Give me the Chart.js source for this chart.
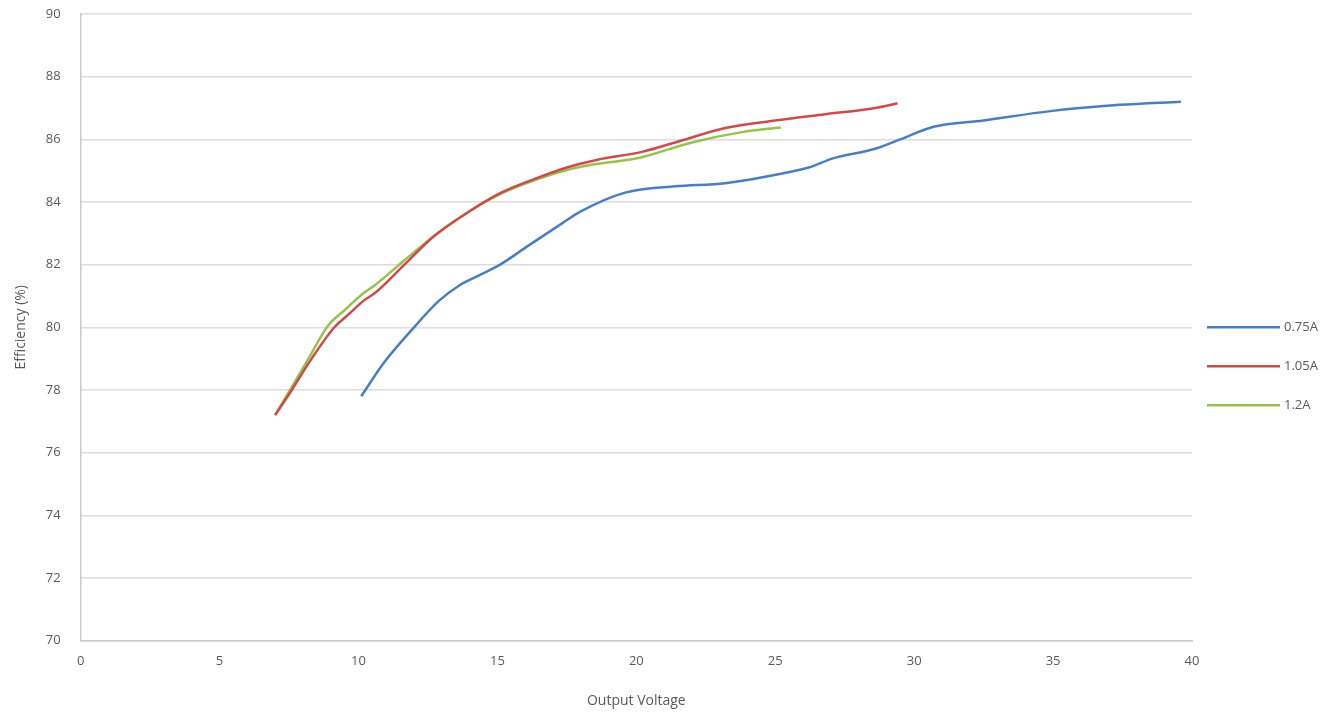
<!DOCTYPE html>
<html>
<head>
<meta charset="utf-8">
<script src="https://cdn.jsdelivr.net/npm/chart.js@4"></script>
<style>
  html, body { margin: 0; padding: 0; background: #fff; }
  #wrap { width: 1344px; height: 715px; }
</style>
</head>
<body>
<div id="wrap"><canvas id="myChart" width="1344" height="715"></canvas></div>
<script>
// valores
const seriesLabels = ['0.75A', '1.05A', '1.2A'];
const seriesColors = ['#4a7ebf', '#cc4b4b', '#98c150'];

const voltage075 = [10.1, 10.9, 11.9, 12.9, 13.6, 14.3, 15.1, 16.1, 17.3, 18.0, 19.6, 21.4, 23.2, 25.2, 26.2, 27.1, 28.6, 29.5, 30.7, 32.5, 34.9, 37.4, 39.6];
const eff075     = [77.8, 78.85, 79.9, 80.85, 81.32, 81.64, 82.0, 82.6, 83.3, 83.7, 84.3, 84.5, 84.6, 84.9, 85.1, 85.4, 85.7, 86.0, 86.4, 86.6, 86.9, 87.1, 87.2];

const voltage105 = [7.0, 7.6, 8.2, 9.1, 9.6, 10.2, 10.6, 11.6, 12.7, 13.9, 15.1, 16.3, 17.5, 18.6, 20.2, 21.4, 23.2, 25.0, 26.8, 28.6, 29.4];
const eff105     = [77.2, 78.0, 78.85, 79.97, 80.38, 80.86, 81.1, 81.95, 82.9, 83.65, 84.28, 84.72, 85.1, 85.35, 85.6, 85.9, 86.36, 86.6, 86.8, 87.0, 87.15];

const voltage12  = [7.0, 8.2, 8.9, 9.5, 10.2, 10.6, 11.6, 12.7, 13.9, 15.1, 16.3, 17.5, 18.6, 19.6, 20.2, 22.0, 23.8, 25.2];
const eff12      = [77.2, 79.0, 80.05, 80.55, 81.1, 81.35, 82.1, 82.9, 83.65, 84.25, 84.68, 85.02, 85.22, 85.33, 85.43, 85.9, 86.23, 86.38];

const xTicks = [0, 5, 10, 15, 20, 25, 30, 35, 40];
const yTicks = [70, 72, 74, 76, 78, 80, 82, 84, 86, 88, 90];

function puntos(xs, ys) {
    return xs.map((x, i) => ({ x: x, y: ys[i] }));
}

const textColor = '#595959';
const fontFam = '"Open Sans", "Liberation Sans", sans-serif';

// leyenda a la derecha, dibujada a mano para controlar el largo de las lineas
const leyenda = {
    id: 'leyenda',
    afterDraw(chart) {
        const c = chart.ctx;
        const area = chart.chartArea;
        const x0 = area.right + 15;
        const yMid = (area.top + area.bottom) / 2 + 39;
        c.save();
        c.font = '13px ' + fontFam;
        c.textBaseline = 'middle';
        chart.data.datasets.forEach((ds, i) => {
            const y = yMid + (i - 1) * 39;
            c.strokeStyle = ds.borderColor;
            c.lineWidth = 2.5;
            c.beginPath();
            c.moveTo(x0, y);
            c.lineTo(x0 + 73, y);
            c.stroke();
            c.fillStyle = textColor;
            c.fillText(ds.label, x0 + 77, y);
        });
        c.restore();
    }
};

const ctx = document.getElementById('myChart').getContext('2d');
new Chart(ctx, {
    type: 'scatter',
    data: {
        datasets: [
            { label: seriesLabels[0], data: puntos(voltage075, eff075) },
            { label: seriesLabels[1], data: puntos(voltage105, eff105) },
            { label: seriesLabels[2], data: puntos(voltage12, eff12) }
        ].map((d, i) => Object.assign(d, {
            showLine: true,
            borderColor: seriesColors[i],
            backgroundColor: seriesColors[i],
            borderWidth: 2.5,
            pointRadius: 0,
            cubicInterpolationMode: 'monotone'
        }))
    },
    options: {
        responsive: false,
        animation: false,
        layout: { padding: { left: 13, right: 152, top: 14, bottom: 6 } },
        plugins: {
            legend: { display: false },
            tooltip: { enabled: false }
        },
        scales: {
            x: {
                type: 'linear',
                min: 0,
                max: 40,
                afterBuildTicks: axis => { axis.ticks = xTicks.map(v => ({ value: v })); },
                grid: { display: false, drawTicks: false },
                border: { display: true, color: '#c8c8c8', width: 1.5 },
                ticks: { color: textColor, font: { family: fontFam, size: 13 }, padding: 13, maxRotation: 0 },
                title: { display: true, text: 'Output Voltage', color: textColor, font: { family: fontFam, size: 14 }, padding: { top: 10, bottom: 0 } }
            },
            y: {
                min: 70,
                max: 90,
                afterBuildTicks: axis => { axis.ticks = yTicks.map(v => ({ value: v })); },
                grid: { color: '#dcdcdc', lineWidth: 1.5, drawTicks: true, tickLength: 18, tickColor: 'rgba(0,0,0,0)' },
                border: { display: true, color: '#c8c8c8', width: 1.5 },
                ticks: { color: textColor, font: { family: fontFam, size: 13 }, padding: 2 },
                title: { display: true, text: 'Efficiency (%)', color: textColor, font: { family: fontFam, size: 14 }, padding: { top: 0, bottom: 14 } }
            }
        }
    },
    plugins: [leyenda]
});
</script>
</body>
</html>
